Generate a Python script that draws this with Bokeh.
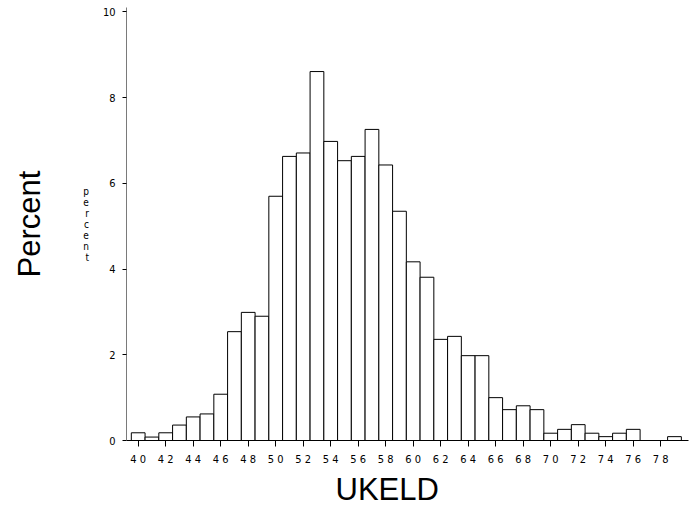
from bokeh.plotting import figure
from bokeh.models import FixedTicker, Range1d, Title, LinearAxis
from bokeh.embed import file_html
from bokeh.resources import INLINE

# ---- data ----
ukeld = list(range(40, 80))
percent = [0.18, 0.08, 0.18, 0.36, 0.55, 0.62, 1.08, 2.54, 2.99, 2.90,
           5.70, 6.63, 6.71, 8.61, 6.98, 6.53, 6.63, 7.26, 6.43, 5.35,
           4.17, 3.81, 2.36, 2.43, 1.98, 1.98, 1.00, 0.72, 0.81, 0.72,
           0.17, 0.26, 0.37, 0.17, 0.09, 0.17, 0.26, 0.00, 0.00, 0.09]
x_ticks = list(range(40, 80, 2))
y_ticks = [0, 2, 4, 6, 8, 10]
x_title = "UKELD"
y_title = "Percent"
y_small = "percent"

NARROW = "DejaVu Sans Condensed"

bx = [v for v, h in zip(ukeld, percent) if h > 0]
bh = [h for h in percent if h > 0]

p = figure(output_backend="svg", toolbar_location=None,
           frame_width=562, frame_height=433,
           min_border_left=126, min_border_right=2,
           min_border_top=7, min_border_bottom=65,
           x_range=Range1d(39.149, 80.02), y_range=Range1d(0, 10.105))
p.outline_line_color = None
p.xgrid.visible = False
p.ygrid.visible = False
p.background_fill_color = "white"
p.border_fill_color = "white"

p.vbar(x=bx, top=bh, bottom=0, width=1.0,
       fill_color="white", line_color="black", line_width=1)

xa = p.xaxis[0]
xa.ticker = FixedTicker(ticks=x_ticks)
xa.major_label_overrides = {t: " ".join(str(t)) for t in x_ticks}
xa.major_label_text_font = NARROW
xa.major_label_text_font_size = "11px"
xa.major_label_text_color = "black"
xa.major_tick_out = 6
xa.major_tick_in = 0
xa.minor_tick_out = 0
xa.minor_tick_in = 0
xa.major_label_standoff = 6
xa.axis_line_color = "black"
xa.major_tick_line_color = "black"

ya = p.yaxis[0]
ya.ticker = FixedTicker(ticks=y_ticks)
ya.major_label_text_font = NARROW
ya.major_label_text_font_size = "11px"
ya.major_label_text_color = "black"
ya.major_tick_out = 4
ya.major_tick_in = 0
ya.minor_tick_out = 0
ya.minor_tick_in = 0
ya.major_label_standoff = 7
ya.axis_line_color = "#7a7a7a"
ya.major_tick_line_color = "black"
ya.axis_label = "\n".join(y_small)
ya.axis_label_orientation = "horizontal"
ya.axis_label_text_font = NARROW
ya.axis_label_text_font_size = "10px"
ya.axis_label_text_font_style = "normal"
ya.axis_label_text_line_height = 1.0
ya.axis_label_text_color = "black"
ya.axis_label_standoff = 11

# outer left axis carrying only the big "Percent" title
ya2 = LinearAxis(ticker=FixedTicker(ticks=[]), axis_line_color=None,
                 major_tick_line_color=None, minor_tick_line_color=None,
                 major_label_text_font_size="0px",
                 axis_label=y_title, axis_label_text_font="Liberation Sans",
                 axis_label_text_font_size="31px",
                 axis_label_text_font_style="normal",
                 axis_label_text_color="black", axis_label_standoff=34)
p.add_layout(ya2, "left")

p.add_layout(Title(text=x_title, align="left", offset=209,
                   text_font="Liberation Sans", text_font_size="31px",
                   text_font_style="normal", text_color="black",
                   standoff=2), "below")

open("out.html", "w").write(file_html(p, INLINE))
